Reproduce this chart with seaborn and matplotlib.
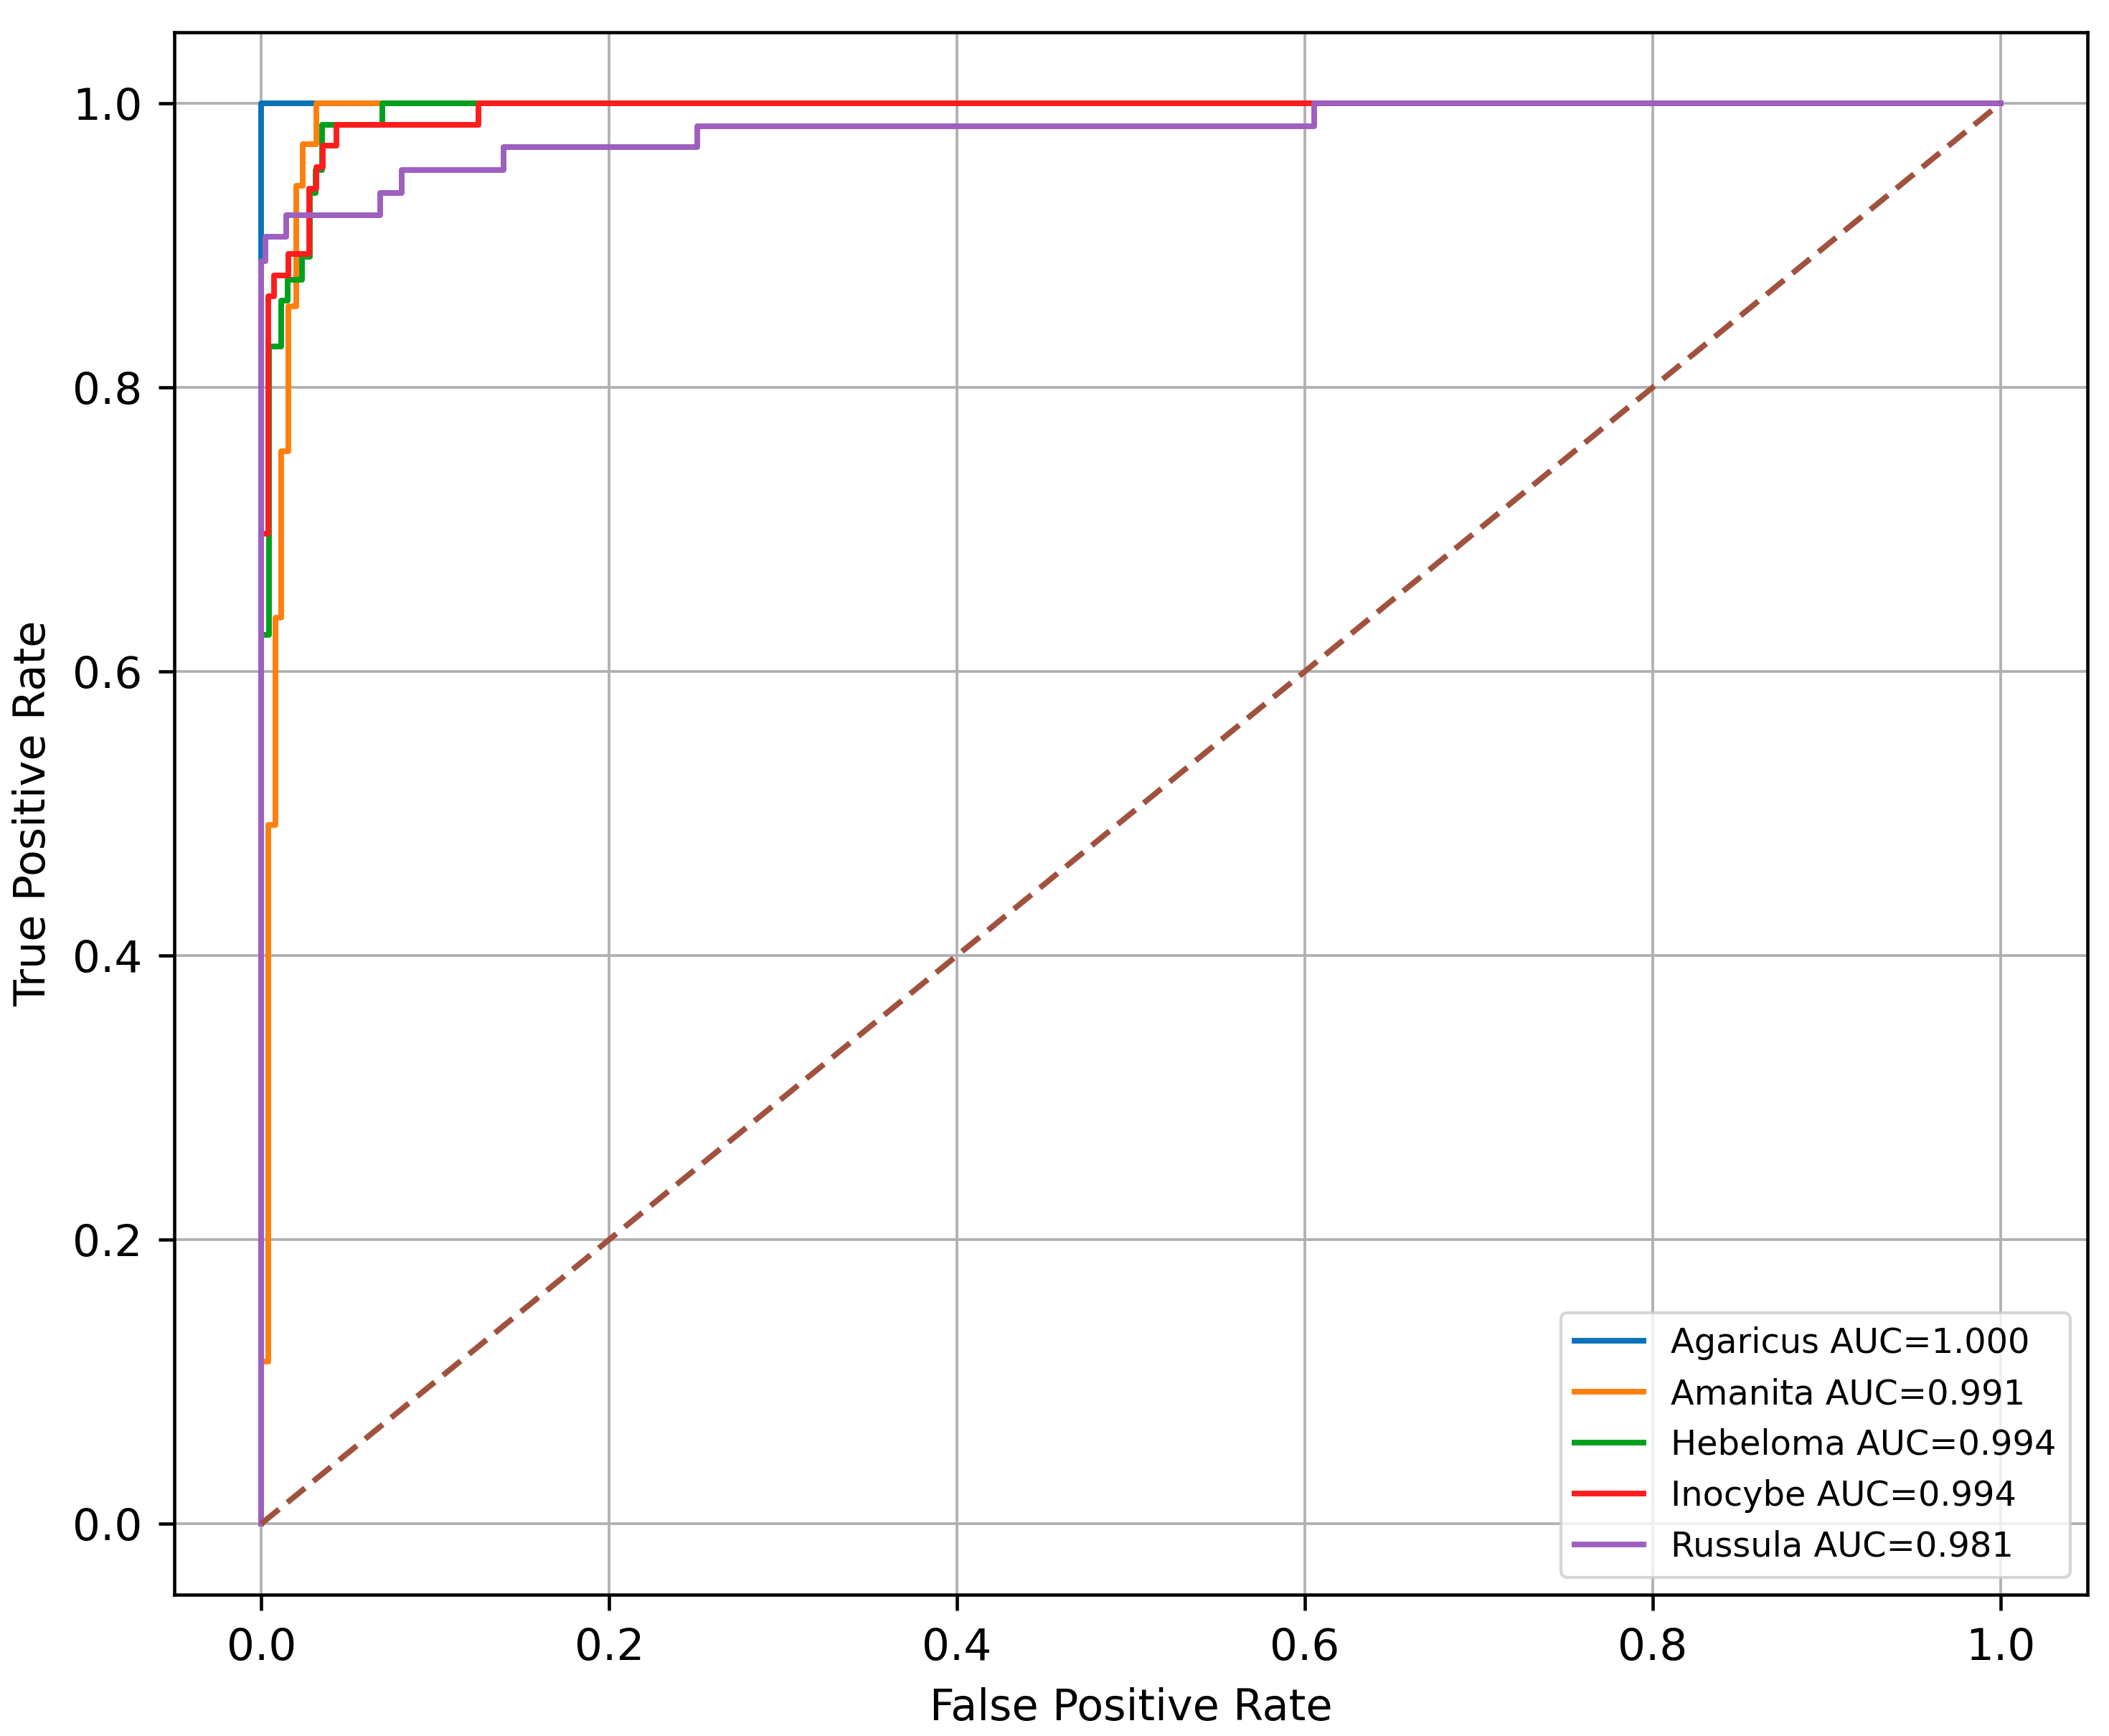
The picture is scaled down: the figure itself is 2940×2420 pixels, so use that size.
import matplotlib
matplotlib.use("Agg")
import matplotlib.pyplot as plt
import pandas as pd
import seaborn as sns

# ROC points (fpr, tpr) per class
classes = ["Agaricus", "Amanita", "Hebeloma", "Inocybe", "Russula"]
auc_values = [1.000, 0.991, 0.994, 0.994, 0.981]

agaricus_fpr = [0.0, 0.0, 1.0]
agaricus_tpr = [0.0, 1.0, 1.0]

amanita_fpr = [0.0, 0.0, 0.0040, 0.0040, 0.0080, 0.0080, 0.0115, 0.0115,
               0.0155, 0.0155, 0.0199, 0.0199, 0.0236, 0.0236, 0.0318, 0.0318, 1.0]
amanita_tpr = [0.0, 0.114, 0.114, 0.492, 0.492, 0.638, 0.638, 0.755,
               0.755, 0.857, 0.857, 0.942, 0.942, 0.971, 0.971, 1.0, 1.0]

hebeloma_fpr = [0.0, 0.0, 0.0042, 0.0042, 0.0115, 0.0115, 0.0150, 0.0150,
                0.0233, 0.0233, 0.0277, 0.0277, 0.0314, 0.0314, 0.0350, 0.0350,
                0.0696, 0.0696, 1.0]
hebeloma_tpr = [0.0, 0.626, 0.626, 0.829, 0.829, 0.861, 0.861, 0.876,
                0.876, 0.892, 0.892, 0.937, 0.937, 0.953, 0.953, 0.985,
                0.985, 1.0, 1.0]

inocybe_fpr = [0.0, 0.0, 0.0040, 0.0040, 0.0074, 0.0074, 0.0155, 0.0155,
               0.0273, 0.0273, 0.0318, 0.0318, 0.0353, 0.0353, 0.0431, 0.0431,
               0.1248, 0.1248, 1.0]
inocybe_tpr = [0.0, 0.697, 0.697, 0.864, 0.864, 0.879, 0.879, 0.894,
               0.894, 0.940, 0.940, 0.955, 0.955, 0.970, 0.970, 0.985,
               0.985, 1.0, 1.0]

russula_fpr = [0.0, 0.0, 0.0025, 0.0025, 0.0141, 0.0141, 0.0685, 0.0685,
               0.0808, 0.0808, 0.1393, 0.1393, 0.2505, 0.2505, 0.6055, 0.6055, 1.0]
russula_tpr = [0.0, 0.889, 0.889, 0.906, 0.906, 0.921, 0.921, 0.937,
               0.937, 0.953, 0.953, 0.969, 0.969, 0.984, 0.984, 1.0, 1.0]

diag_x = [0.0, 1.0]
diag_y = [0.0, 1.0]

tick_values = [0.0, 0.2, 0.4, 0.6, 0.8, 1.0]

colors = ["#0a72b8", "#ff7f0e", "#00a01e", "#ff1c1c", "#9d5fc0"]
diag_color = "#a0523f"

curves = {
    "Agaricus": (agaricus_fpr, agaricus_tpr),
    "Amanita": (amanita_fpr, amanita_tpr),
    "Hebeloma": (hebeloma_fpr, hebeloma_tpr),
    "Inocybe": (inocybe_fpr, inocybe_tpr),
    "Russula": (russula_fpr, russula_tpr),
}

rows = []
for name in classes:
    fpr, tpr = curves[name]
    for i, (fx, ty) in enumerate(zip(fpr, tpr)):
        rows.append({"cls": name, "order": i, "fpr": fx, "tpr": ty})
df = pd.DataFrame(rows)

plt.rcParams["font.family"] = ["DejaVu Sans"]

fig, ax = plt.subplots(figsize=(9.8, 2420 / 300))
fig.subplots_adjust(left=0.0827, right=0.9898, bottom=0.0814, top=0.9814)

for name, auc_v, col in zip(classes, auc_values, colors):
    sub = df[df["cls"] == name].sort_values("order")
    sns.lineplot(data=sub, x="fpr", y="tpr", sort=False, estimator=None,
                 color=col, lw=1.9, label=f"{name} AUC={auc_v:.3f}", ax=ax)

sns.lineplot(x=diag_x, y=diag_y, color=diag_color, lw=1.9,
             linestyle=(0, (4.0, 1.9)), sort=False, estimator=None, ax=ax)

ax.set_xlim(-0.05, 1.05)
ax.set_ylim(-0.05, 1.05)
ax.set_xticks(tick_values)
ax.set_yticks(tick_values)
ax.set_xticklabels([f"{v:.1f}" for v in tick_values])
ax.set_yticklabels([f"{v:.1f}" for v in tick_values])
ax.tick_params(labelsize=14.7, length=5.3, width=1.1, pad=5.5, color="black")

ax.grid(True, color="#b0b0b0", lw=0.9)
ax.set_axisbelow(True)
for sp in ax.spines.values():
    sp.set_linewidth(1.1)
    sp.set_color("black")

ax.set_xlabel("False Positive Rate", fontsize=14.5, labelpad=6)
ax.set_ylabel("True Positive Rate", fontsize=14.5, labelpad=6)

ax.legend(loc="lower right", fontsize=11.5)

fig.savefig("out.png", dpi=300)
